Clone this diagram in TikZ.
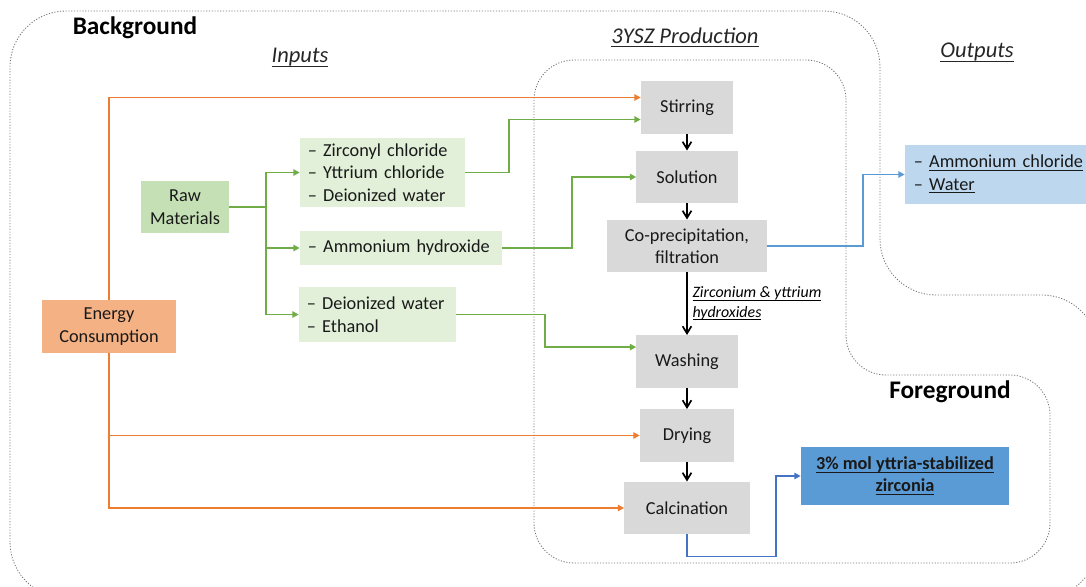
\documentclass[tikz,border=0pt]{standalone}
\usepackage{amsmath}
\usepackage{fontspec}
\setmainfont{Carlito}
\usepackage{tikz}
\usetikzlibrary{arrows.meta,positioning,calc}
\usepackage{xcolor}
\definecolor{rawfill}{HTML}{C5E0B4}
\definecolor{inpfill}{HTML}{E2F0D9}
\definecolor{nrgfill}{HTML}{F4B183}
\definecolor{procfill}{HTML}{D9D9D9}
\definecolor{outfill}{HTML}{BDD7EE}
\definecolor{prodfill}{HTML}{5B9BD5}
\definecolor{eline}{HTML}{ED7D31}
\definecolor{gline}{HTML}{70AD47}
\definecolor{bline}{HTML}{5B9BD5}
\definecolor{dbline}{HTML}{4472C4}
\newcommand{\ulbase}[1]{\underline{\smash[b]{#1}}}

\begin{document}
\begin{tikzpicture}[
  x=0.025cm, y=-0.025cm,
  font=\fontsize{13pt}{16pt}\selectfont,
  box/.style={align=center, inner sep=0pt, text=black!90},
  raw/.style={box, fill=rawfill},
  inp/.style={box, fill=inpfill, align=left, inner xsep=0.2cm},
  nrg/.style={box, fill=nrgfill},
  proc/.style={box, fill=procfill, minimum height=1.31cm},
  outp/.style={box, fill=outfill, align=left, inner xsep=0.225cm},
  prod/.style={box, fill=prodfill, font=\fontsize{13pt}{16pt}\selectfont\bfseries},
  ttl/.style={font=\fontsize{18pt}{20pt}\selectfont\bfseries},
  hdr/.style={font=\fontsize{16pt}{18pt}\selectfont\itshape, text=black!85},
  lbl/.style={align=left, font=\fontsize{11.3pt}{14pt}\selectfont\itshape},
  zone/.style={draw=black!55, line width=0.6pt, dash pattern=on 0.8pt off 1.2pt},
  ar/.style={-{Straight Barb[length=1.8mm,width=2.2mm]}, line width=1.2pt},
  ear/.style={-{Triangle[length=1.6mm,width=1.6mm]}, line width=1.4pt, color=eline},
  gar/.style={ear, color=gline},
  bar/.style={ear, color=bline},
  dbar/.style={ear, color=dbline}
]
\useasboundingbox (0,0) rectangle (1086,586);
\clip (0,0) rectangle (1086,586);

\draw[zone, rounded corners=1.4cm] (10,598) -- (10,11) -- (880,11) -- (880,295)
     -- (1098,295) -- (1098,598) -- cycle;
\draw[zone, rounded corners=1cm] (534,563) -- (534,60) -- (846,60) -- (846,375)
     -- (1050,375) -- (1050,563) -- cycle;

\node[ttl] (bgl) at (135,28) {Background};
\node[ttl] (fgl) at (950,392) {Foreground};
\node[hdr] (inl) at (300,58) {\ulbase{Inputs}};
\node[hdr] (prl) at (685,38) {\ulbase{3YSZ Production}};
\node[hdr] (oul) at (977,53) {\ulbase{Outputs}};

\node[raw, minimum width=2.2cm, minimum height=1.3cm] (raw) at (185,207) {Raw\\Materials};
\node[inp, text width=3.725cm, minimum height=1.725cm] (zyd) at (382.5,172.5)
     {\textendash{} Zirconyl chloride\\\textendash{} Yttrium chloride\\\textendash{} Deionized water};
\node[inp, text width=4.65cm, minimum height=0.85cm] (amh) at (401,248) {\textendash{} Ammonium hydroxide};
\node[inp, text width=3.525cm, minimum height=1.375cm] (dwe) at (377.5,314.5)
     {\textendash{} Deionized water\\\textendash{} Ethanol};
\node[nrg, minimum width=3.325cm, minimum height=1.325cm] (energy) at (109,326.5) {Energy\\Consumption};

\node[proc, minimum width=2.3cm]   (stir) at (687,107.5) {Stirring};
\node[proc, minimum width=2.525cm] (sol)  at (687,177)   {Solution};
\node[proc, minimum width=4cm]     (cop)  at (687,246)   {Co-precipitation,\\filtration};
\node[proc, minimum width=2.525cm] (wash) at (687,361.5) {Washing};
\node[proc, minimum width=2.35cm]  (dry)  at (687,435.5) {Drying};
\node[proc, minimum width=3.125cm] (calc) at (687,508)   {Calcination};

\node[outp, text width=4.6cm, minimum height=1.475cm] (outs) at (1006,174.5)
     {\textendash{} \ulbase{Ammonium chloride}\\\textendash{} \ulbase{Water}};
\node[prod, minimum width=5.2cm, minimum height=1.45cm] (ysz) at (905,476)
     {\ulbase{3\% mol yttria-stabilized}\\\ulbase{zirconia}};

\coordinate (gsplit) at (266,207);
\draw[line width=1.4pt, gline] (raw.east) -- (gsplit);
\draw[gar] (gsplit) |- (zyd.west);
\draw[gar] (gsplit) |- (amh.west);
\draw[gar] (gsplit) |- (dwe.west);
\draw[gar] (zyd.east) -- ++(43.5,0) |- ([yshift=-0.3cm]stir.west);
\draw[gar] (amh.east) -- ++(70,0) |- (sol.west);
\draw[gar] (dwe.east) -- ++(89,0) |- ([yshift=0.36cm]wash.west);

\draw[ear] (energy.north) |- ([yshift=0.25cm]stir.west);
\draw[ear] (energy.south) |- (dry.west);
\draw[ear] (energy.south) |- (calc.west);

\draw[bar] (cop.east) -- ++(96,0) |- (outs.west);
\draw[dbar] (calc.south) -- ++(0,22) -| ([xshift=-0.625cm]ysz.west) -- (ysz.west);

\draw[ar] (stir) -- (sol);
\draw[ar] (sol) -- (cop);
\draw[ar] (cop) -- node[lbl, right] {\ulbase{Zirconium \& yttrium}\\\ulbase{hydroxides}} (wash);
\draw[ar] (wash) -- (dry);
\draw[ar] (dry) -- (calc);
\end{tikzpicture}
\end{document}
